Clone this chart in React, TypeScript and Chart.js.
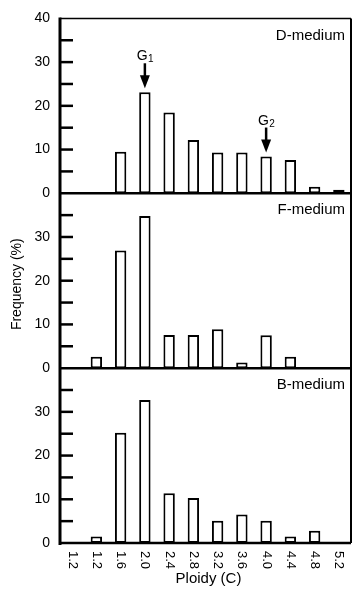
import React, { useEffect, useRef } from "react";
import { Chart, registerables } from "chart.js";

Chart.register(...registerables);

// ---- data ----
const ploidyLabels = ["1.2", "1.2", "1.6", "2.0", "2.4", "2.8", "3.2", "3.6", "4.0", "4.4", "4.8", "5.2"];
const dMedium = [null, null, 9.5, 23.1, 18.5, 12.2, 9.3, 9.3, 8.4, 7.6, 1.5, 0.8];
const fMedium = [null, 2.6, 26.9, 34.8, 7.6, 7.6, 8.9, 1.3, 7.5, 2.6, null, null];
const bMedium = [null, 1.5, 25.2, 32.7, 11.4, 10.3, 5.1, 6.5, 5.1, 1.5, 2.8, null];
const panelNames = ["D-medium", "F-medium", "B-medium"];
const markerIndex = [3, 8];
const markerBase = ["G", "G"];
const markerSub = ["1", "2"];
const yTitle = "Frequency (%)";
const xTitle = "Ploidy (C)";
const yMax = 40;
const yStep = 5;
const yLabelStep = 10;

const FONT = '"Liberation Sans", Arial, Helvetica, sans-serif';

export default function App() {
  const ref = useRef<HTMLCanvasElement>(null);

  useEffect(() => {
    const canvas = ref.current;
    if (!canvas) return;
    const panelIds = ["yD", "yF", "yB"];
    const series = [dMedium, fMedium, bMedium];

    const yAxis = (showTop: boolean) => ({
      type: "linear" as const,
      position: "left" as const,
      stack: "panels",
      stackWeight: 1,
      min: 0,
      max: yMax,
      grid: { display: false, drawTicks: false },
      border: { display: false },
      ticks: {
        stepSize: yStep,
        autoSkip: false,
        padding: 10,
        color: "#000",
        font: { family: FONT, size: 14 },
        callback: (v: any) =>
          Number(v) % yLabelStep === 0 && (showTop || Number(v) !== yMax) ? String(v) : "",
      },
      afterFit: (s: any) => {
        s.width = 60;
      },
    });

    const line = (ctx: CanvasRenderingContext2D, x1: number, y1: number, x2: number, y2: number) => {
      ctx.beginPath();
      ctx.moveTo(x1, y1);
      ctx.lineTo(x2, y2);
      ctx.stroke();
    };

    const framePlugin = {
      id: "frames",
      beforeDraw(chart: any) {
        const ctx = chart.ctx;
        ctx.save();
        ctx.fillStyle = "#fff";
        ctx.fillRect(0, 0, chart.width, chart.height);
        ctx.restore();
      },
      afterDatasetsDraw(chart: any) {
        const ctx: CanvasRenderingContext2D = chart.ctx;
        const area = chart.chartArea;
        const xs = chart.scales.x;
        ctx.save();
        ctx.strokeStyle = "#000";
        ctx.fillStyle = "#000";

        panelIds.forEach((id, p) => {
          const s = chart.scales[id];
          ctx.lineWidth = 2.5;
          for (let v = yStep; v < yMax; v += yStep) {
            const y = s.getPixelForValue(v);
            line(ctx, area.left, y, area.left + 13, y);
          }
          const zero = s.getPixelForValue(0);
          line(ctx, area.left, zero, area.right, zero);
          ctx.font = `15px ${FONT}`;
          ctx.textAlign = "right";
          ctx.textBaseline = "middle";
          ctx.fillText(panelNames[p], area.right - 6, s.top + 17);
        });

        ctx.lineWidth = 1.5;
        line(ctx, area.left, area.top, area.right, area.top);
        ctx.lineWidth = 2;
        line(ctx, area.right, area.top, area.right, area.bottom);
        ctx.lineWidth = 3;
        line(ctx, area.left, area.top - 1, area.left, area.bottom + 2);

        // x tick labels, rotated clockwise
        ctx.font = `13px ${FONT}`;
        ctx.textAlign = "left";
        ctx.textBaseline = "middle";
        ploidyLabels.forEach((lab, i) => {
          const px = xs.getPixelForTick(i);
          ctx.save();
          ctx.translate(px, area.bottom + 8);
          ctx.rotate(Math.PI / 2);
          ctx.fillText(lab, 0, 0);
          ctx.restore();
        });

        // axis titles
        ctx.font = `15px ${FONT}`;
        ctx.textAlign = "center";
        ctx.textBaseline = "alphabetic";
        ctx.fillText(xTitle, (area.left + area.right) / 2 + 3, area.bottom + 40);
        ctx.save();
        ctx.font = `14px ${FONT}`;
        ctx.textBaseline = "middle";
        ctx.translate(17, (area.top + area.bottom) / 2 + 3.5);
        ctx.rotate(-Math.PI / 2);
        ctx.fillText(yTitle, 0, 0);
        ctx.restore();

        // G1 / G2 markers on top panel
        const yD = chart.scales.yD;
        markerIndex.forEach((idx, k) => {
          const cx = xs.getPixelForValue(idx);
          const barTop = yD.getPixelForValue(dMedium[idx] as number);
          const tip = barTop - 4;
          const headH = 13;
          const headW = 10;
          const shaftTop = tip - 25;
          ctx.lineWidth = 2.5;
          line(ctx, cx, shaftTop, cx, tip - headH + 1);
          ctx.beginPath();
          ctx.moveTo(cx - headW / 2, tip - headH);
          ctx.lineTo(cx + headW / 2, tip - headH);
          ctx.lineTo(cx, tip);
          ctx.closePath();
          ctx.fill();
          ctx.font = `14px ${FONT}`;
          const wG = ctx.measureText(markerBase[k]).width;
          ctx.font = `10px ${FONT}`;
          const wS = ctx.measureText(markerSub[k]).width;
          const start = cx - (wG + wS) / 2;
          ctx.textAlign = "left";
          ctx.textBaseline = "alphabetic";
          ctx.font = `14px ${FONT}`;
          ctx.fillText(markerBase[k], start, shaftTop - 3);
          ctx.font = `10px ${FONT}`;
          ctx.fillText(markerSub[k], start + wG + 0.5, shaftTop - 1);
        });

        ctx.restore();
      },
    };

    const chart = new Chart(canvas, {
      type: "bar",
      data: {
        labels: ploidyLabels,
        datasets: series.map((d, i) => ({
          label: panelNames[i],
          data: d as any,
          yAxisID: panelIds[i],
          backgroundColor: "#fff",
          borderColor: "#000",
          borderWidth: 2,
          borderSkipped: false as any,
          grouped: false,
          categoryPercentage: 1,
          barPercentage: 0.47,
        })),
      },
      options: {
        responsive: false,
        animation: false,
        layout: { padding: { top: 14, right: 2, left: 0, bottom: 0 } },
        plugins: { legend: { display: false }, tooltip: { enabled: false } },
        scales: {
          x: {
            type: "category",
            position: "bottom",
            grid: { display: false, drawTicks: false },
            border: { display: false },
            ticks: { display: false },
            afterFit: (s: any) => {
              s.height = 48;
            },
          },
          yB: yAxis(false),
          yF: yAxis(false),
          yD: yAxis(true),
        } as any,
      },
      plugins: [framePlugin],
    });

    return () => chart.destroy();
  }, []);

  return (
    <div style={{ position: "absolute", left: 0, top: 0, width: 353, height: 591, background: "#fff" }}>
      <canvas ref={ref} width={353} height={591} style={{ display: "block" }} />
    </div>
  );
}
